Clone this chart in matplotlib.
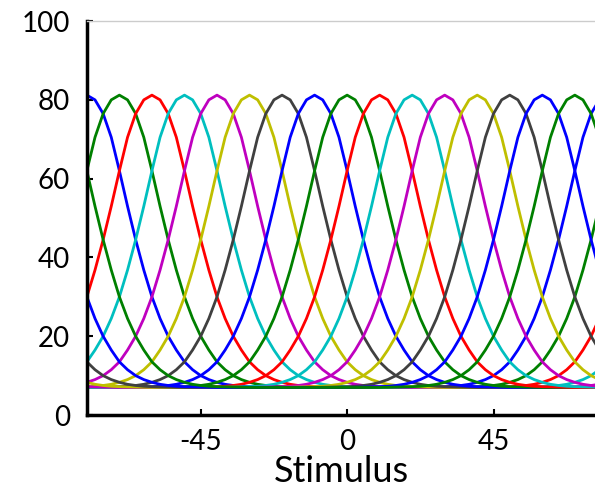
import matplotlib
matplotlib.use("Agg")
import matplotlib.pyplot as plt
import numpy as np

plt.rcParams['axes.unicode_minus'] = False

# preferred stimulus of each unit, in plotting order
preferred = [-80, -70, -60, -50, -40, -30, -20, -10, 0, 10, 20, 30, 40, 50, 60, 70]
colors = ['#0000ff', '#008000', '#ff0000', '#00bfbf', '#bf00bf', '#bfbf00', '#404040']
period = 160

# tuning curve: response vs distance from preferred stimulus
offsets = [0, 2.5, 5, 7.5, 10, 12.5, 15, 17.5, 20, 22.5, 25, 27.5, 30, 32.5, 35, 37.5,
           40, 42.5, 45, 47.5, 50, 55, 60, 65, 70, 75, 80]
rates = [81.2, 80.0, 76.5, 70.5, 62.0, 53.0, 44.5, 36.8, 30.0, 24.5, 20.0, 16.5, 13.5,
         11.5, 10.0, 9.0, 8.3, 7.8, 7.5, 7.3, 7.2, 7.1, 7.0, 7.0, 7.0, 7.0, 7.0]

stimulus = np.arange(-80, 80.01, 2.5)

fig = plt.figure(figsize=(5.95, 4.9), dpi=100)
ax = fig.add_axes([0.146, 0.153, 0.854, 0.804])

for i, p in enumerate(preferred):
    d = np.abs(((stimulus - p + period / 2) % period) - period / 2)
    ax.plot(stimulus, np.interp(d, offsets, rates), color=colors[i % len(colors)], lw=2.0)

ax.set_xlim(-80, 76.2)
ax.set_ylim(0, 100)
ax.set_xticks([-45, 0, 45])
ax.set_yticks([0, 20, 40, 60, 80, 100])

font = 'Lato'
ax.tick_params(direction='in', length=4, width=1.5, labelsize=20, pad=12)
ax.tick_params(axis='x', pad=10)
for lab in ax.get_xticklabels() + ax.get_yticklabels():
    lab.set_family(font)
ax.set_xlabel('Stimulus', fontsize=26, family=font, labelpad=0)

ax.spines['left'].set_linewidth(2.5)
ax.spines['bottom'].set_linewidth(2.5)
ax.spines['top'].set_color('#cccccc')
ax.spines['top'].set_linewidth(1.0)
ax.spines['right'].set_visible(False)

fig.savefig('out.png', dpi=100)
